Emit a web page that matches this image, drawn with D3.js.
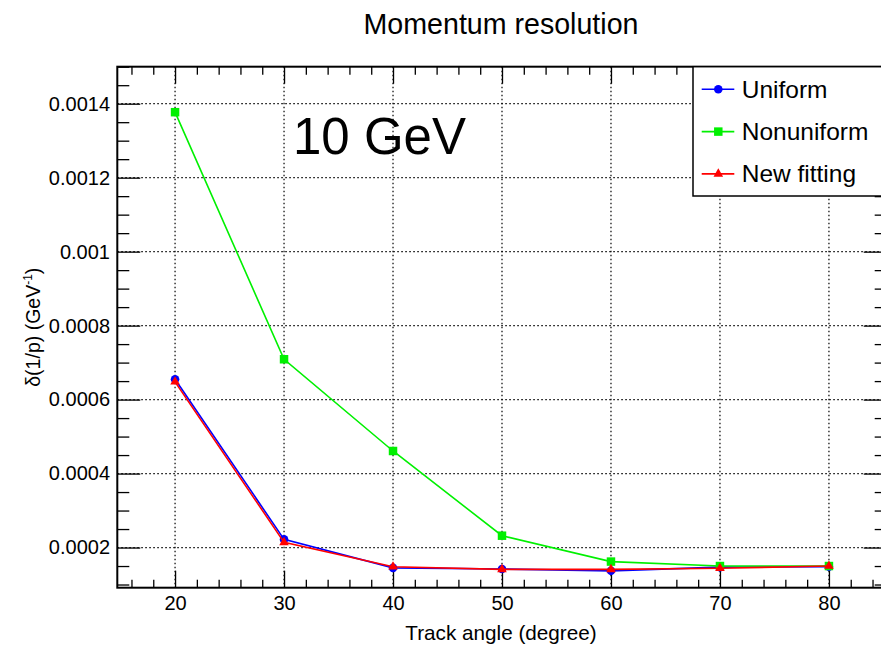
<!DOCTYPE html>
<html>
<head>
<meta charset="utf-8">
<script src="https://cdn.jsdelivr.net/npm/d3@7"></script>
<style>
    body { margin: 0; background: #fff; }
    svg { display: block; font-family: "Liberation Sans", Arial, Helvetica, sans-serif; }
</style>
</head>
<body>
<div id="main"></div>
<script>
// data
var angles = [20, 30, 40, 50, 60, 70, 80];
var uniform = [0.000655, 0.000222, 0.000145, 0.000142, 0.000137, 0.000147, 0.000148];
var nonuniform = [0.001377, 0.000709, 0.000461, 0.000232, 0.000162, 0.000150, 0.000150];
var newFitting = [0.000648, 0.000214, 0.000148, 0.000141, 0.000141, 0.000144, 0.000150];

var seriesNames = ["Uniform", "Nonuniform", "New fitting"];
var xTicks = [20, 30, 40, 50, 60, 70, 80];
var yTicks = [0.0002, 0.0004, 0.0006, 0.0008, 0.001, 0.0012, 0.0014];
var yTickLabels = ["0.0002", "0.0004", "0.0006", "0.0008", "0.001", "0.0012", "0.0014"];

var width = 881, height = 648;
// plot frame (window.top is read-only, so no "top" here)
var frameL = 117.3, frameR = 886.7, frameT = 66.7, frameB = 587.7;

var svg = d3.select("#main")
    .append("svg")
    .attr("width", width)
    .attr("height", height);

var x = d3.scaleLinear().domain([14.7, 85.3]).range([frameL, frameR]);
var y = d3.scaleLinear().domain([0.0000914, 0.0015]).range([frameB, frameT]);

// minor ticks, every 2 degrees and every 0.00005
var xMinor = d3.range(16, 86, 2).filter(function(d) { return d % 10 !== 0; });
var yMinor = d3.range(1, 31).map(function(i) { return i * 0.00005; })
    .filter(function(d) { return d > 0.0000914 && Math.round(d / 0.00005) % 4 !== 0; });

// dotted grid
var grid = svg.append("g")
    .attr("stroke", "#000")
    .attr("stroke-width", 1.2)
    .attr("stroke-dasharray", "1.5,2.5");
grid.selectAll("line.gx")
    .data(xTicks)
    .enter()
    .append("line")
    .attr("x1", function(d) { return x(d); })
    .attr("x2", function(d) { return x(d); })
    .attr("y1", frameT)
    .attr("y2", frameB);
grid.selectAll("line.gy")
    .data(yTicks)
    .enter()
    .append("line")
    .attr("x1", frameL)
    .attr("x2", frameR)
    .attr("y1", function(d) { return y(d); })
    .attr("y2", function(d) { return y(d); });

// axes with ticks pointing inwards
function styleAxis(g) {
    g.select(".domain").remove();
    g.selectAll(".tick line").attr("stroke", "#000").attr("stroke-width", 1.3);
    g.selectAll("text").attr("fill", "#000").style("font-size", "20px")
        .style("font-family", "\"Liberation Sans\", Arial, sans-serif");
}

svg.append("g")
    .attr("transform", "translate(0," + frameB + ")")
    .call(d3.axisBottom(x).tickValues(xTicks).tickSizeInner(-17).tickSizeOuter(0).tickPadding(8))
    .call(styleAxis);
svg.append("g")
    .attr("transform", "translate(0," + frameB + ")")
    .call(d3.axisBottom(x).tickValues(xMinor).tickFormat("").tickSizeInner(-8).tickSizeOuter(0))
    .call(styleAxis);
svg.append("g")
    .attr("transform", "translate(0," + frameT + ")")
    .call(d3.axisTop(x).tickValues(xTicks).tickFormat("").tickSizeInner(-17).tickSizeOuter(0))
    .call(styleAxis);
svg.append("g")
    .attr("transform", "translate(0," + frameT + ")")
    .call(d3.axisTop(x).tickValues(xMinor).tickFormat("").tickSizeInner(-8).tickSizeOuter(0))
    .call(styleAxis);

svg.append("g")
    .attr("transform", "translate(" + frameL + ",0)")
    .call(d3.axisLeft(y).tickValues(yTicks)
        .tickFormat(function(d, i) { return yTickLabels[i]; })
        .tickSizeInner(-23).tickSizeOuter(0).tickPadding(7.3))
    .call(styleAxis);
svg.append("g")
    .attr("transform", "translate(" + frameL + ",0)")
    .call(d3.axisLeft(y).tickValues(yMinor).tickFormat("").tickSizeInner(-12).tickSizeOuter(0))
    .call(styleAxis);
svg.append("g")
    .attr("transform", "translate(" + frameR + ",0)")
    .call(d3.axisRight(y).tickValues(yTicks).tickFormat("").tickSizeInner(-23).tickSizeOuter(0))
    .call(styleAxis);
svg.append("g")
    .attr("transform", "translate(" + frameR + ",0)")
    .call(d3.axisRight(y).tickValues(yMinor).tickFormat("").tickSizeInner(-12).tickSizeOuter(0))
    .call(styleAxis);

// frame
svg.append("rect")
    .attr("x", frameL)
    .attr("y", frameT)
    .attr("width", frameR - frameL)
    .attr("height", frameB - frameT)
    .attr("fill", "none")
    .attr("stroke", "#000")
    .attr("stroke-width", 2);

// series
var series = [
    {name: seriesNames[0], values: uniform, color: "#0000ff", symbol: d3.symbolCircle, size: 58},
    {name: seriesNames[1], values: nonuniform, color: "#00f000", symbol: d3.symbolSquare, size: 72},
    {name: seriesNames[2], values: newFitting, color: "#ff0000", symbol: d3.symbolTriangle, size: 40}
];

var line = d3.line()
    .x(function(d) { return x(d[0]); })
    .y(function(d) { return y(d[1]); });

series.forEach(function(s) {
    var pts = angles.map(function(a, i) { return [a, s.values[i]]; });
    svg.append("path")
        .attr("d", line(pts))
        .attr("fill", "none")
        .attr("stroke", s.color)
        .attr("stroke-width", 1.6);
    svg.append("g")
        .selectAll("path")
        .data(pts)
        .enter()
        .append("path")
        .attr("d", d3.symbol().type(s.symbol).size(s.size))
        .attr("transform", function(d) { return "translate(" + x(d[0]) + "," + y(d[1]) + ")"; })
        .attr("fill", s.color);
});

// legend
var legend = svg.append("g");
legend.append("rect")
    .attr("x", 693)
    .attr("y", frameT)
    .attr("width", 220)
    .attr("height", 129.3)
    .attr("fill", "#fff")
    .attr("stroke", "#000")
    .attr("stroke-width", 1.5);

var entry = legend.selectAll("g.entry")
    .data(series)
    .enter()
    .append("g")
    .attr("transform", function(d, i) { return "translate(0," + (89.3 + i * 42.3) + ")"; });
entry.append("line")
    .attr("x1", 701.7)
    .attr("x2", 734.3)
    .attr("stroke", function(d) { return d.color; })
    .attr("stroke-width", 1.6);
entry.append("path")
    .attr("d", function(d) { return d3.symbol().type(d.symbol).size(d.size)(); })
    .attr("transform", "translate(718.3,0)")
    .attr("fill", function(d) { return d.color; });
entry.append("text")
    .attr("x", 741.7)
    .attr("dy", "0.35em")
    .style("font-size", "24.5px")
    .text(function(d) { return d.name; });

// titles
svg.append("text")
    .attr("x", 501)
    .attr("y", 34.3)
    .attr("text-anchor", "middle")
    .style("font-size", "28.6px")
    .text("Momentum resolution");

svg.append("text")
    .attr("x", 293)
    .attr("y", 154)
    .style("font-size", "51px")
    .text("10 GeV");

svg.append("text")
    .attr("x", 501)
    .attr("y", 640)
    .attr("text-anchor", "middle")
    .style("font-size", "20.7px")
    .text("Track angle (degree)");

var ylab = svg.append("text")
    .attr("transform", "translate(40,327.2) rotate(-90)")
    .attr("text-anchor", "middle")
    .style("font-size", "19.5px");
ylab.append("tspan").text("δ(1/p) (GeV");
ylab.append("tspan").attr("dy", -8).style("font-size", "12px").text("-1");
ylab.append("tspan").attr("dy", 8).text(")");
</script>
</body>
</html>
